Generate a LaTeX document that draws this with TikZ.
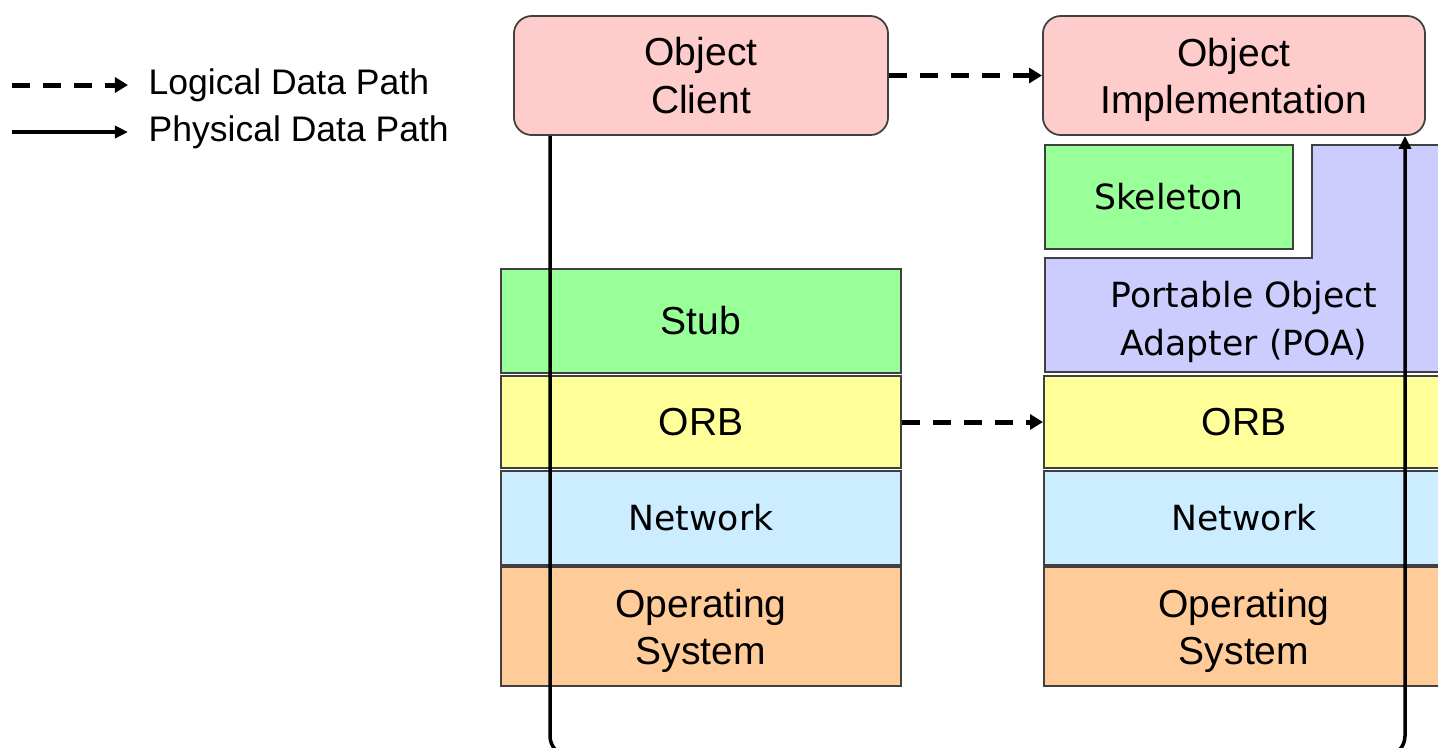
\documentclass[tikz,border=0pt]{standalone}
\usepackage{fontspec}
\setmainfont{Liberation Sans}
\newfontfamily\tahoma{DejaVu Sans}
\usetikzlibrary{arrows.meta}

\definecolor{objpink}{HTML}{FFCCCC}
\definecolor{stubgreen}{HTML}{99FF99}
\definecolor{poablue}{HTML}{CCCCFF}
\definecolor{orbyellow}{HTML}{FFFF99}
\definecolor{netblue}{HTML}{CCECFF}
\definecolor{osorange}{HTML}{FFCC99}

\begin{document}
\begin{tikzpicture}[x=0.01cm,y=-0.01cm,
  box/.style={draw=black!75, line width=0.5pt, align=center, inner sep=0pt,
    font=\fontsize{11.1}{13.4}\selectfont},
  layer/.style={box, minimum width=4cm},
  tbox/.style={font=\tahoma\fontsize{9.85}{13.7}\selectfont},
  logical/.style={line width=0.05cm, dash pattern=on 0.18cm off 0.13cm,
    -{Triangle[length=0.13cm,width=0.15cm]}},
  physical/.style={line width=0.035cm, rounded corners=0.2cm,
    -{Triangle[length=0.13cm,width=0.12cm]}}]

\useasboundingbox (0,0) rectangle (1438,747);

% Legend
\coordinate (lgdash) at (12,85);
\coordinate (lgsolid) at (12,132);
\node[anchor=west, inner sep=0pt, font=\fontsize{10.1}{12}\selectfont] (lglog) at (148,85) {Logical Data Path};
\node[anchor=west, inner sep=0pt, font=\fontsize{10.1}{12}\selectfont] (lgphys) at (148,132) {Physical Data Path};
\draw[logical] (lgdash) -- ([xshift=-0.2cm]lglog.west);
\draw[physical] (lgsolid) -- ([xshift=-0.2cm]lgphys.west);

% Objects
\node[box, fill=objpink, rounded corners=0.18cm, minimum width=3.74cm, minimum height=1.19cm] (client) at (701,75.5) {Object\\Client};
\node[box, fill=objpink, rounded corners=0.18cm, minimum width=3.82cm, minimum height=1.19cm, text depth=0pt] (impl) at (1234,75.5) {Object\\Implementation};

% Client stack
\node[layer, fill=stubgreen, minimum height=1.04cm] (stub) at (701,321) {Stub};
\node[layer, fill=orbyellow, minimum height=0.92cm] (orbL) at (701,422) {ORB};
\node[layer, tbox, fill=netblue, minimum height=0.94cm] (netL) at (701,518) {Network};
\node[layer, fill=osorange, minimum height=1.19cm, text depth=0pt] (osL) at (701,626.5) {Operating\\System};

% Server stack
\draw[draw=black!75, line width=0.5pt, fill=poablue] (1045,258) -- (1312,258) -- (1312,145)
  -- (1460,145) -- (1460,372) -- (1045,372) -- cycle;
\node[align=center, tbox, text depth=0pt] (poa) at (1244,318) {Portable Object\\Adapter (POA)};
\node[box, tbox, fill=stubgreen, minimum width=2.48cm, minimum height=1.04cm] (skel) at (1169,197) {Skeleton};
\node[layer, fill=orbyellow, minimum height=0.92cm] (orbR) at (1244,422) {ORB};
\node[layer, tbox, fill=netblue, minimum height=0.94cm] (netR) at (1244,518) {Network};
\node[layer, fill=osorange, minimum height=1.19cm, text depth=0pt] (osR) at (1244,626.5) {Operating\\System};

% Data paths
\draw[logical] (client.east) -- (impl.west);
\draw[logical] (orbL.east) -- (orbR.west);
\coordinate (turnL) at (550,756);
\coordinate (turnR) at (1405,756);
\draw[physical] (turnL |- client.south) -- (turnL) -- (turnR) -- (turnR |- impl.south);

\end{tikzpicture}
\end{document}
